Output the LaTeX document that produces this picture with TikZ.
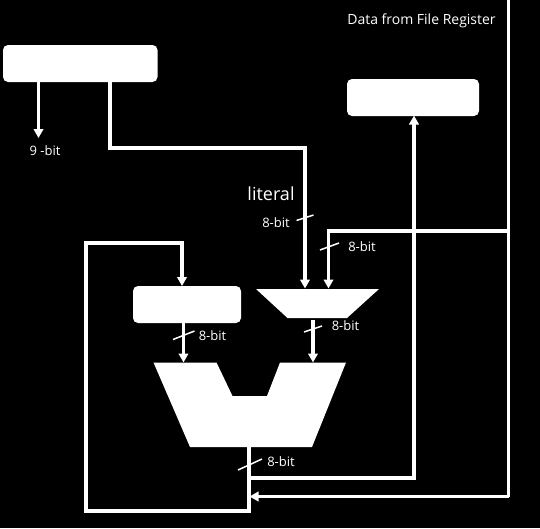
\documentclass[tikz,border=0pt]{standalone}
\usepackage{fontspec}
\setmainfont{Open Sans}
\usetikzlibrary{arrows.meta}
\tikzset{
  x=1pt,y=-1pt,
  wire/.style={draw=white,line width=3.3pt,line join=miter},
  arrowwire/.style={wire,-{Triangle[length=9pt,width=9.5pt]}},
  tick/.style={draw=white,line width=1.5pt},
  block/.style={fill=white,draw=none,rounded corners=5pt,inner sep=0pt},
  lbl/.style={text=white,font=\fontsize{13}{15}\selectfont,inner sep=0pt},
  datalbl/.style={text=white,font=\fontsize{14}{16}\selectfont,inner sep=0pt},
  biglbl/.style={text=white,font=\fontsize{18}{21}\selectfont,inner sep=0pt}
}
\begin{document}
\begin{tikzpicture}
\useasboundingbox[fill=black] (0,0) rectangle (540,528);
% blocks
\node[block,minimum width=154.5pt,minimum height=37pt] (pc) at (80.25,63.5) {};
\node[block,minimum width=132pt,minimum height=37pt] (outreg) at (413,97.5) {};
\node[block,minimum width=108pt,minimum height=37pt] (wreg) at (187,304.5) {};
\fill[white] (256,289) -- (379,289) -- (347,318) -- (287.5,318) -- cycle;
\coordinate (muxtop1) at (305,288.5);
\coordinate (muxtop2) at (328.5,288.5);
\coordinate (muxbot) at (313,320);
\fill[white] (153.5,362.5) -- (216.5,362.5) -- (232.5,396) -- (267,396) -- (280,362.5) -- (346,362.5) -- (312,447) -- (190,447) -- cycle;
\coordinate (alu1) at (183.5,362.5);
\coordinate (alu2) at (313,362.5);
\coordinate (aluout) at (249,446);
% routing coordinates
\coordinate (a9) at (38.5,82);
\coordinate (a9end) at (38.5,138);
\coordinate (lit0) at (110,82);
\coordinate (lit1) at (110,148);
\coordinate (lit2) at (305,148);
\coordinate (bus0) at (508.5,0);
\coordinate (bus1) at (508.5,231);
\coordinate (bus2) at (508.5,496.5);
\coordinate (busin) at (328.5,231);
\coordinate (busend) at (249.5,496.5);
\coordinate (res0) at (249,478);
\coordinate (res1) at (414,478);
\coordinate (res2) at (414,115.5);
\coordinate (lp1) at (249,511);
\coordinate (lp2) at (86,511);
\coordinate (lp3) at (86,243);
\coordinate (lp4) at (182,243);
\coordinate (lp5) at (182,286);
% connectors
\draw[arrowwire] (a9) -- (a9end);
\draw[arrowwire] (lit0) -- (lit1) -- (lit2) -- (muxtop1);
\draw[wire] (bus0) -- (bus2);
\draw[arrowwire] (bus1) -- (busin) -- (muxtop2);
\draw[arrowwire] (bus2) -- (busend);
\draw[arrowwire] (res0) -- (res1) -- (res2);
\draw[arrowwire] (aluout) -- (lp1) -- (lp2) -- (lp3) -- (lp4) -- (lp5);
\draw[arrowwire] (wreg.south -| alu1) -- (alu1);
\draw[arrowwire] (muxbot) -- (alu2);
% slashes
\draw[tick] (296.5,220.5) -- (313.5,215);
\draw[tick] (320,250) -- (339,243);
\draw[tick] (173,339.5) -- (194.5,331);
\draw[tick] (304,332) -- (322,326);
\draw[tick] (238,470) -- (262,459);
% labels
\node[lbl] (l9) at (45,151) {9 -bit};
\node[biglbl] (llit) at (271,194) {literal};
\node[lbl] (l8a) at (276,223) {8-bit};
\node[lbl] (l8b) at (362,247) {8-bit};
\node[lbl] (l8c) at (212.5,336) {8-bit};
\node[lbl] (l8d) at (345.5,326) {8-bit};
\node[lbl] (l8e) at (281,462) {8-bit};
\node[datalbl] (ldata) at (421.5,20.5) {Data from File Register};
\end{tikzpicture}
\end{document}
